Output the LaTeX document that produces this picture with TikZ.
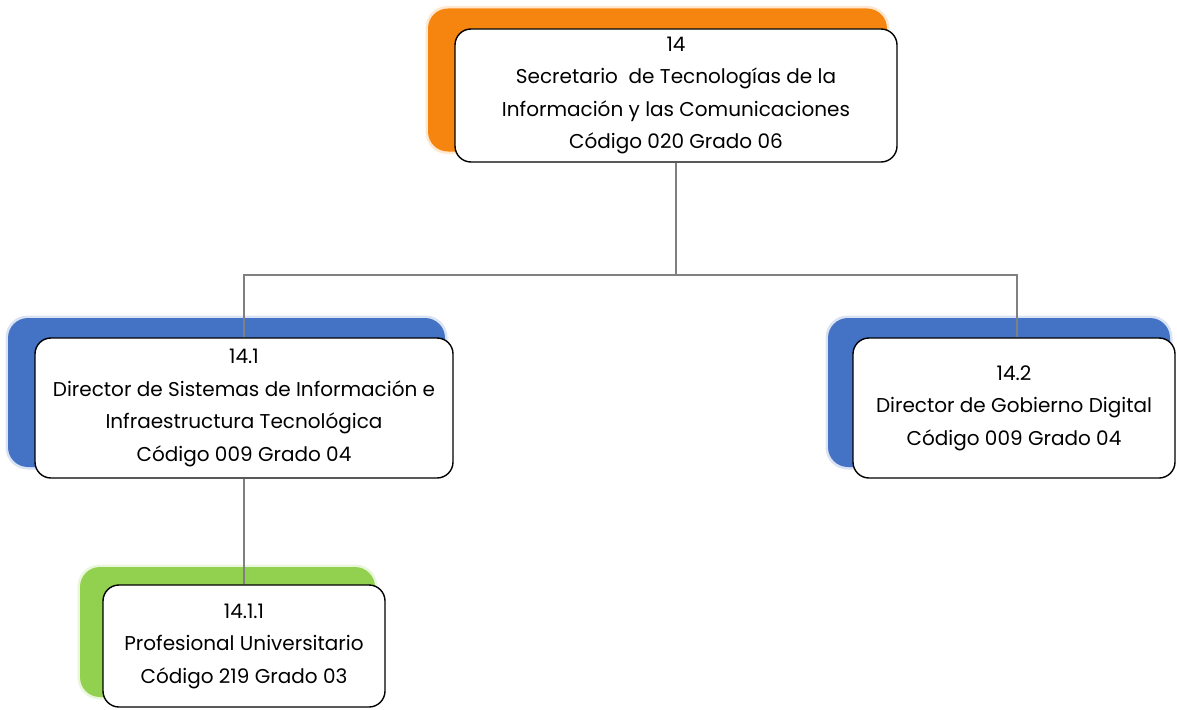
\documentclass[tikz,border=0pt]{standalone}
\usepackage{fontspec}
\setmainfont{Poppins}
\definecolor{orng}{HTML}{F5850F}
\definecolor{blu}{HTML}{4472C4}
\definecolor{grn}{HTML}{92D050}
\definecolor{conn}{HTML}{808080}
\begin{document}
\begin{tikzpicture}[x=1pt,y=-1pt,
  box/.style={draw=black, line width=1.4pt, fill=white, rounded corners=16pt,
    align=center, font=\fontsize{20}{32.5}\selectfont, inner sep=0pt, anchor=center},
  shadowbox/.style={rounded corners=20pt, inner sep=0pt, draw=none, anchor=center},
  halo/.style={rounded corners=22pt, inner sep=0pt, draw=none, anchor=center, fill opacity=0.2},
  link/.style={draw=conn, line width=2pt}]
\useasboundingbox (0,0) rectangle (1177,709);
\begin{scope}
\clip (0,0) rectangle (1177,709);
% shadows
\node[halo, fill=orng, minimum width=464, minimum height=148] (h0) at (657.5,80) {};
\node[shadowbox, fill=orng, minimum width=459, minimum height=143] (s0) at (657.5,80) {};
\node[halo, fill=blu, minimum width=442, minimum height=154] (h1) at (226.5,392.5) {};
\node[shadowbox, fill=blu, minimum width=437, minimum height=149] (s1) at (226.5,392.5) {};
\node[halo, fill=blu, minimum width=347, minimum height=154] (h2) at (999,392.5) {};
\node[shadowbox, fill=blu, minimum width=342, minimum height=149] (s2) at (999,392.5) {};
\node[halo, fill=grn, minimum width=300, minimum height=135] (h3) at (227.5,632) {};
\node[shadowbox, fill=grn, minimum width=295, minimum height=130] (s3) at (227.5,632) {};
% boxes
\node[box, minimum width=442, minimum height=133] (n14) at (676,95.5)
  {14\\Secretario\ \ de Tecnologías de la\\Información y las Comunicaciones\\Código 020 Grado 06};
\node[box, minimum width=418, minimum height=140] (n141) at (244,408)
  {14.1\\Director de Sistemas de Información e\\Infraestructura Tecnológica\\Código 009 Grado 04};
\node[box, minimum width=322, minimum height=140] (n142) at (1014,408)
  {14.2\\Director de Gobierno Digital\\Código 009 Grado 04};
\node[box, minimum width=282, minimum height=122] (n1411) at (244,646)
  {14.1.1\\Profesional Universitario\\Código 219 Grado 03};
\coordinate (bus) at (676,275);
% connectors
\draw[link] (n14.south) -- (bus);
\draw[link] (bus) -| (n141.north);
\draw[link] (bus) -| ([xshift=3]n142.north);
\draw[link] (n141.south) -- (n1411.north);
\end{scope}
\end{tikzpicture}
\end{document}
